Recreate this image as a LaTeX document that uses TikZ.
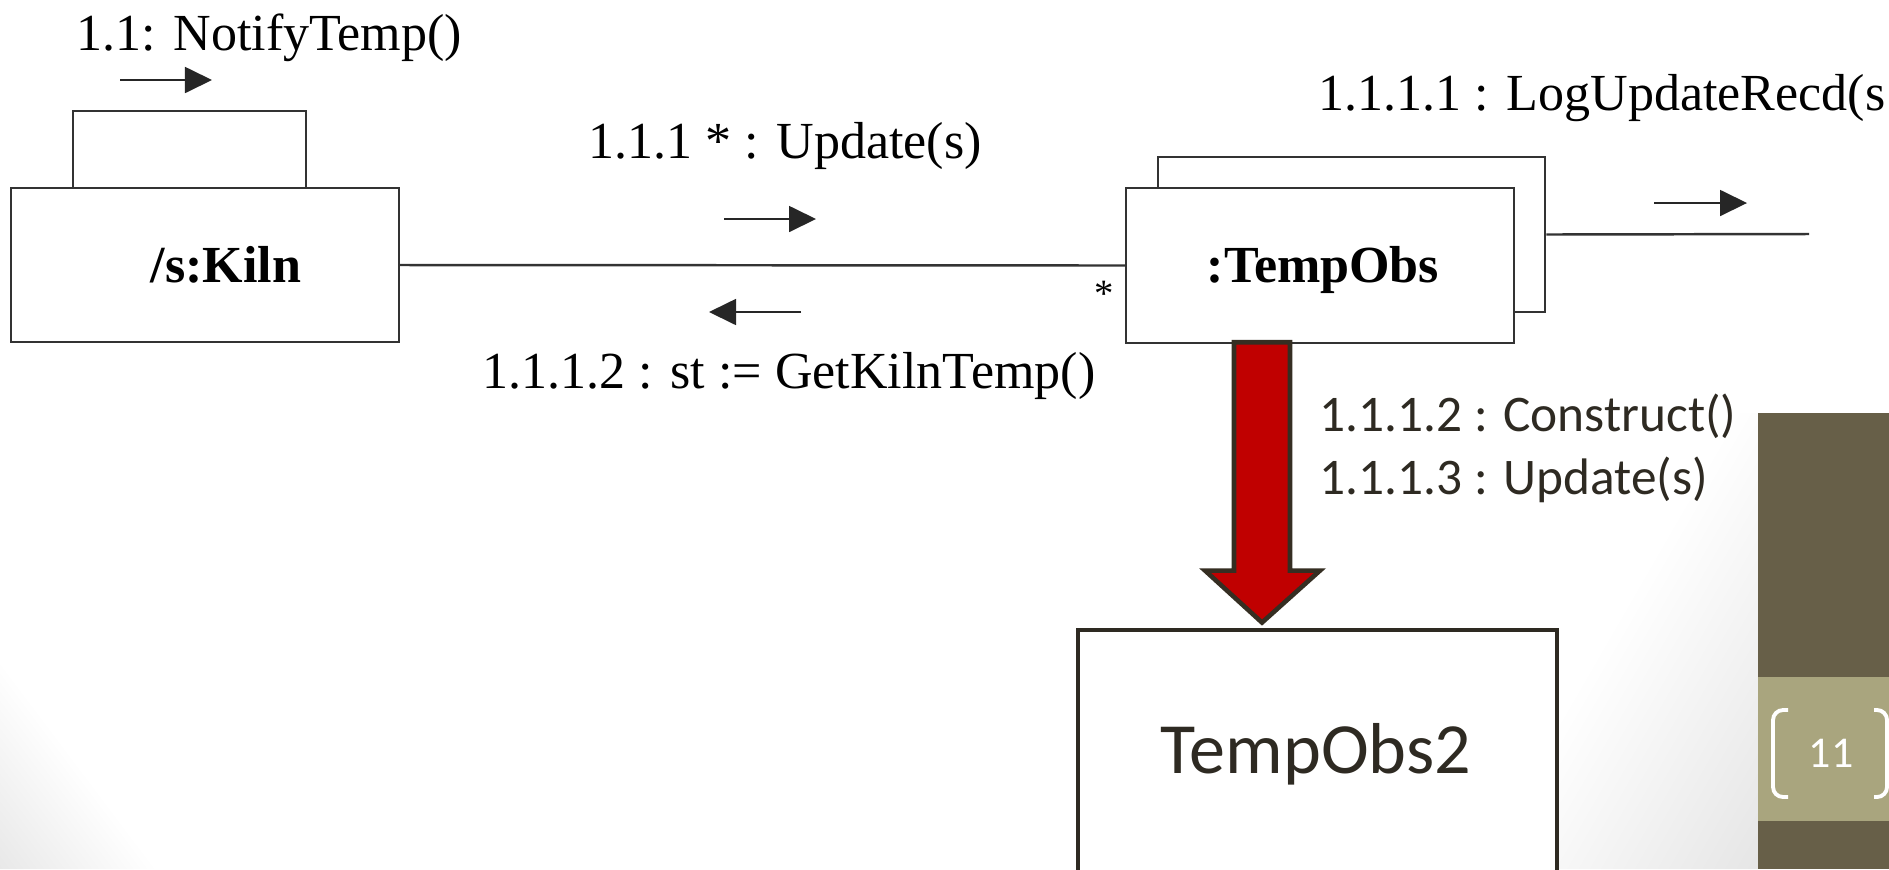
\documentclass[tikz,border=0pt]{standalone}
\usepackage{fontspec}
\setmainfont{Liberation Serif}
\newfontfamily\calfont{Carlito}
\usetikzlibrary{arrows.meta,fit,calc}

\definecolor{olivedark}{HTML}{675F48}
\definecolor{olivelight}{HTML}{A9A57E}
\definecolor{redfill}{HTML}{C00000}
\definecolor{redrim}{HTML}{352E22}
\definecolor{inkdark}{HTML}{2E2A22}

\begin{document}
\begin{tikzpicture}[x=0.01cm, y=-0.01cm,
  umlbox/.style={draw=black!80, line width=0.7pt, inner sep=0pt, fill=white},
  link/.style={draw=black!80, line width=0.7pt},
  msg/.style={draw=black!85, line width=0.5pt, -{Triangle[length=0.27cm,width=0.26cm]}},
  tnr/.style={font=\fontsize{14.8}{17}\selectfont, inner sep=0pt, anchor=base west},
  tnrbold/.style={font=\fontsize{14.8}{17}\selectfont\bfseries, inner sep=0pt, anchor=base west},
  calib/.style={font=\calfont\fontsize{14.6}{17}\selectfont, text=inkdark, inner sep=0pt, anchor=base west},
  heavybox/.style={draw=inkdark, line width=1.4pt, inner sep=0pt, fill=white},
  bracket/.style={draw=white, line width=1.1pt, rounded corners=0.1cm}
]
% page area
\path[use as bounding box, clip] (0,0) rectangle (1889,869);
\fill[white] (0,0) rectangle (1889,869);

% soft shadow left of the number panel
\begin{scope}
  \clip (1735,413) -- (1758,413) -- (1758,869) -- (1470,869) -- cycle;
  \begin{scope}[transform canvas={rotate around={-30:(1758,869)}}]
    \shade[left color=white, right color=black!10] (1509,200) rectangle (1758,1300);
  \end{scope}
\end{scope}
% soft shadow in the lower left corner
\begin{scope}
  \clip (0,660) -- (158,869) -- (0,869) -- cycle;
  \begin{scope}[transform canvas={rotate around={37:(0,869)}}]
    \shade[left color=black!9, right color=white] (0,400) rectangle (126,1300);
  \end{scope}
\end{scope}

% slide number panel
\fill[olivedark] (1758,413) rectangle (1889,869);
\fill[olivelight] (1758,677) rectangle (1889,821);
\draw[bracket] (1788,710) -- (1773,710) -- (1773,797) -- (1788,797);
\draw[bracket] (1874,710) -- (1887,710) -- (1887,797) -- (1874,797);
\node[font=\calfont\fontsize{12.5}{14}\selectfont, text=white, inner sep=0pt] (pageno) at (1831,753) {11};

% Kiln object with its self link
\node (kilnloop) [umlbox, fit={(73,111) (306,188)}] {};
\node (kiln) [umlbox, fit={(11,188) (399,342)}] {};
\node[tnrbold] (kilntxt) at (150,282) {/s:Kiln};

% multi-object TempObs
\node (obsback) [umlbox, fit={(1158,157) (1545,312)}] {};
\node (obs) [umlbox, fit={(1126,188) (1514,343)}] {};
\node[tnrbold] (obstxt) at (1206,282) {:TempObs};

% links
\draw[link] (kiln.east) -- (obs.west);
\coordinate (logend) at (1809,234);
\draw[link] (obsback.east) -- (logend);
\node[font=\fontsize{11}{13}\selectfont, inner sep=0pt] (mult) at (1104,294) {*};

% messages
\node[tnr] (m11) at (76,50) {1.1: NotifyTemp()};
\draw[msg] (120,80) -- (212,80);
\node[tnr] (m111) at (588,158) {1.1.1 * : Update(s)};
\draw[msg] (724,219) -- (816,219);
\draw[msg] (801,312) -- (709,312);
\node[tnr, anchor=base east] (m1112) at (1096,388) {1.1.1.2 : st := GetKilnTemp()};
\node[tnr] (m1111) at (1318,110) {1.1.1.1 : LogUpdateRecd(s};
\draw[msg] (1654,203) -- (1747,203);

% TempObs2 object
\node (obs2) [heavybox, fit={(1078,630) (1557,900)}] {};
\node[font=\calfont\fontsize{20.5}{24}\selectfont, text=inkdark, inner sep=0pt, anchor=base] (obs2txt) at (1316,773) {TempObs2};

% block arrow from TempObs to TempObs2
\coordinate (redtop) at (obs.south -| 1262,0);
\coordinate (redtip) at ($(obs2.north -| redtop)+(0,-5)$);
\draw[fill=redfill, draw=redrim, line width=1.3pt, line join=miter]
  ($(redtop)+(-28,-2)$) -- ($(redtop)+(28,-2)$) -- ($(redtip)+(28,-52)$) -- ($(redtip)+(58,-52)$)
  -- (redtip) -- ($(redtip)+(-57,-52)$) -- ($(redtip)+(-28,-52)$) -- cycle;
\node[calib] (c1) at (1319,431) {1.1.1.2 : Construct()};
\node[calib] (c2) at (1319,494) {1.1.1.3 : Update(s)};
\end{tikzpicture}
\end{document}
